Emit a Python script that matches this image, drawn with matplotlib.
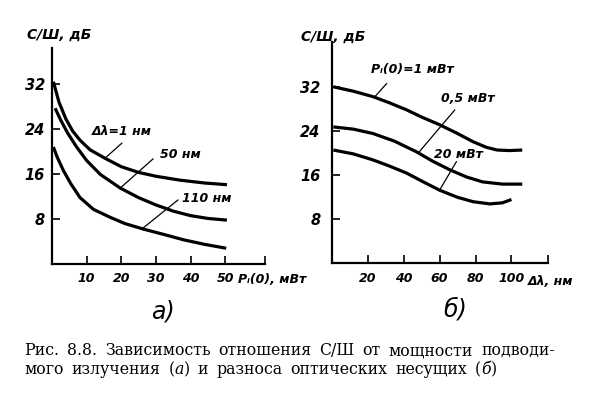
import matplotlib
matplotlib.use("Agg")
import matplotlib.pyplot as plt

# ---------------- data ----------------
# panel a: S/N (dB) vs P_i(0) (mW) for three channel spacings
a_labels = ["Δλ=1 нм", "50 нм", "110 нм"]
a1_x = [0.4, 2, 4, 6, 8.1, 11, 15.3, 20, 24.9, 30, 37, 44, 50.5]
a1_y = [32.4, 28.8, 25.8, 23.6, 22.0, 20.3, 18.8, 17.3, 16.3, 15.6, 14.9, 14.4, 14.1]
a2_x = [0.9, 2.5, 4.5, 7, 10, 14, 19.7, 25, 30, 35, 40, 45, 50.5]
a2_y = [27.7, 25.6, 23.3, 20.9, 18.4, 15.9, 13.5, 11.8, 10.5, 9.4, 8.6, 8.1, 7.8]
a3_x = [0.4, 1.5, 3.3, 5.5, 8.1, 12, 16.8, 21, 26.4, 32, 38, 44, 50.3]
a3_y = [20.8, 19.0, 16.6, 14.2, 11.8, 9.7, 8.3, 7.2, 6.2, 5.3, 4.3, 3.5, 2.8]

# panel b: S/N (dB) vs channel spacing (nm) for three powers
b_labels = ["Pᵢ(0)=1 мВт", "0,5 мВт", "20 мВт"]
b1_x = [0.9, 12, 23, 32, 41.7, 50, 60, 70, 78.7, 86, 92, 99, 106]
b1_y = [32.1, 31.3, 30.3, 29.2, 27.9, 26.6, 25.2, 23.6, 22.1, 21.1, 20.6, 20.5, 20.6]
b2_x = [0.9, 12, 23, 35, 47, 56, 65.7, 75, 84, 95, 106]
b2_y = [24.8, 24.4, 23.6, 22.2, 20.3, 18.6, 17.0, 15.7, 14.8, 14.4, 14.4]
b3_x = [0.9, 12, 23, 32, 41.7, 51, 60, 70, 78.7, 88, 95, 100]
b3_y = [20.6, 19.9, 18.8, 17.7, 16.4, 14.8, 13.3, 12.0, 11.2, 10.8, 11.0, 11.6]

y_ticks = [8, 16, 24, 32]
a_xticks = [10, 20, 30, 40, 50]
b_xticks = [20, 40, 60, 80, 100]
ylabel = "С/Ш, дБ"
a_xlabel = "Pᵢ(0), мВт"
b_xlabel = "Δλ, нм"
caption1 = ["Рис.", "8.8.", "Зависимость", "отношения", "С/Ш", "от",
            "мощности", "подводи-"]
caption2 = ["мого", "излучения", [("(", "normal"), ("а", "italic"), (")", "normal")],
            "и", "разноса", "оптических", "несущих",
            [("(", "normal"), ("б", "italic"), (")", "normal")]]

# ---------------- figure ----------------
W, H = 604, 394
fig = plt.figure(figsize=(W / 100, H / 100), dpi=100)
FONT = dict(family="DejaVu Sans", style="italic", weight="bold")


def px_rect(x0, y_bottom, x1, y_top):
    return [x0 / W, (H - y_bottom) / H, (x1 - x0) / W, (y_bottom - y_top) / H]


def style_axes(ax, xmax, ymax, xticks, ypad):
    ax.set_xlim(0, xmax)
    ax.set_ylim(0, ymax)
    for s in ("top", "right"):
        ax.spines[s].set_visible(False)
    for s in ("left", "bottom"):
        ax.spines[s].set_linewidth(1.6)
    ax.set_xticks(xticks + [xmax])
    ax.set_xticklabels([str(t) for t in xticks] + [""], fontdict=dict(size=9, **FONT))
    ax.set_yticks(y_ticks)
    ax.set_yticklabels([str(t) for t in y_ticks], fontdict=dict(size=10.5, **FONT))
    ax.tick_params(axis="both", direction="in", length=6, width=1.2)
    ax.tick_params(axis="x", pad=6)
    ax.tick_params(axis="y", pad=ypad)
    ax.patch.set_alpha(0)


LW = 2.3
ax1 = fig.add_axes(px_rect(52, 264, 265, 48))
style_axes(ax1, 61.5, 38.4, a_xticks, 5)
for xs, ys in ((a1_x, a1_y), (a2_x, a2_y), (a3_x, a3_y)):
    ax1.plot(xs, ys, color="black", lw=LW, solid_capstyle="butt", solid_joinstyle="round")

lab_kw = dict(size=9, color="black", va="center", ha="left", **FONT)
ax1.text(11.6, 23.5, a_labels[0], **lab_kw)
ax1.text(31.2, 19.5, a_labels[1], **lab_kw)
ax1.text(37.4, 11.6, a_labels[2], **lab_kw)
for (x0, y0), (x1, y1) in (((15.3, 18.8), (20.2, 21.5)),
                           ((19.7, 13.5), (29.2, 18.7)),
                           ((26.3, 6.4), (36.4, 11.4))):
    ax1.annotate("", xy=(x0, y0), xytext=(x1, y1),
                 arrowprops=dict(arrowstyle="-", lw=0.9, color="black",
                                 shrinkA=0, shrinkB=0))
ax1.text(0.875, -0.07, a_xlabel, transform=ax1.transAxes, size=9,
         ha="left", va="center", **FONT)

ax2 = fig.add_axes(px_rect(331.7, 263.3, 548.3, 41.7))
style_axes(ax2, 120.5, 40.3, b_xticks, 8)
for xs, ys in ((b1_x, b1_y), (b2_x, b2_y), (b3_x, b3_y)):
    ax2.plot(xs, ys, color="black", lw=LW, solid_capstyle="butt", solid_joinstyle="round")
ax2.text(22, 35.2, b_labels[0], **lab_kw)
ax2.text(61, 30.0, b_labels[1], **lab_kw)
ax2.text(57, 19.8, b_labels[2], **lab_kw)
for (x0, y0), (x1, y1) in (((24, 30.3), (30.6, 32.7)),
                           ((48, 20.0), (68.5, 27.9)),
                           ((60, 13.3), (69.4, 18.5))):
    ax2.annotate("", xy=(x0, y0), xytext=(x1, y1),
                 arrowprops=dict(arrowstyle="-", lw=0.9, color="black",
                                 shrinkA=0, shrinkB=0))
ax2.text(0.905, -0.08, b_xlabel, transform=ax2.transAxes, size=9,
         ha="left", va="center", **FONT)

# y-axis titles
fig.text(27 / W, (H - 35) / H, ylabel, size=10, ha="left", va="center", **FONT)
fig.text(301 / W, (H - 37) / H, ylabel, size=10, ha="left", va="center", **FONT)

# panel letters
fig.text(163 / W, (H - 311) / H, "а)", size=17, family="DejaVu Sans",
         style="italic", ha="center", va="center")
fig.text(455 / W, (H - 309) / H, "б)", size=17, family="DejaVu Sans",
         style="italic", ha="center", va="center")

# ---------------- caption (justified) ----------------
fig.canvas.draw()
renderer = fig.canvas.get_renderer()
CAP = dict(family="DejaVu Serif", size=11.3, color="black")


def width_of(txt, style):
    t = fig.text(0, 0, txt, style=style, **CAP)
    w = t.get_window_extent(renderer).width
    t.remove()
    return w


def segs(word):
    return [(word, "normal")] if isinstance(word, str) else word


def word_width(word):
    return sum(width_of(s, st) for s, st in segs(word))


def draw_line(words, x0, y, gap):
    x = x0
    for w in words:
        for s, st in segs(w):
            fig.text(x / W, (H - y) / H, s, style=st, ha="left", va="baseline", **CAP)
            x += width_of(s, st)
        x += gap


x_left, x_right = 24, 555
w1 = [word_width(w) for w in caption1]
gap = (x_right - x_left - sum(w1)) / (len(caption1) - 1)
draw_line(caption1, x_left, 355, gap)
draw_line(caption2, x_left, 374, gap)

fig.savefig("out.png", dpi=100)
